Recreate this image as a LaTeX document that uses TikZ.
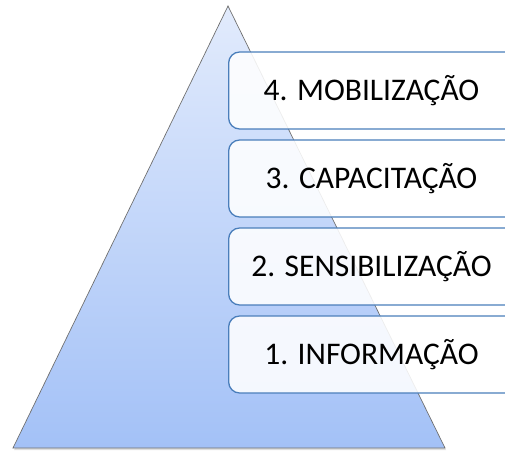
\documentclass[tikz,border=0pt]{standalone}
\usepackage{fontspec}
\setmainfont{Carlito}
\begin{document}
\begin{tikzpicture}[x=1pt,y=1pt,
  level/.style={draw=boxblue, line width=1.3pt, rounded corners=11pt,
    fill=white, fill opacity=0.88, text opacity=1, minimum width=300pt,
    minimum height=77pt, anchor=west, inner sep=0pt},
  lbl/.style={font=\fontsize{31.5}{35}\selectfont, text=black}]
\definecolor{boxblue}{HTML}{4A7EBB}
\definecolor{pyrtop}{HTML}{E2EBFC}
\definecolor{pyrbot}{HTML}{A3C1F7}
\definecolor{pyredge}{HTML}{707070}
\useasboundingbox (0,0) rectangle (505,452);
\clip (0,0) rectangle (505,452);
% shadow
\fill[black!25, opacity=0.5] (14,2) -- (446,2) -- (444,5) -- (16,5) -- cycle;
% pyramid
\coordinate (apex) at (228,446);
\coordinate (bl) at (13,4);
\coordinate (br) at (445,4);
\shade[top color=pyrtop, bottom color=pyrbot, draw=pyredge, line width=0.7pt]
  (apex) -- (br) -- (bl) -- cycle;
% levels
\node[level] (b4) at (228,361.5) {};
\node[level] (b3) at (228,273.5) {};
\node[level] (b2) at (228,185.5) {};
\node[level] (b1) at (228,97.5) {};
\node[lbl] (t4) at (371.5,361.5) {4. MOBILIZAÇÃO};
\node[lbl] (t3) at (371.5,273.5) {3. CAPACITAÇÃO};
\node[lbl] (t2) at (371.5,185.5) {2. SENSIBILIZAÇÃO};
\node[lbl] (t1) at (371.5,97.5) {1. INFORMAÇÃO};
\end{tikzpicture}
\end{document}
